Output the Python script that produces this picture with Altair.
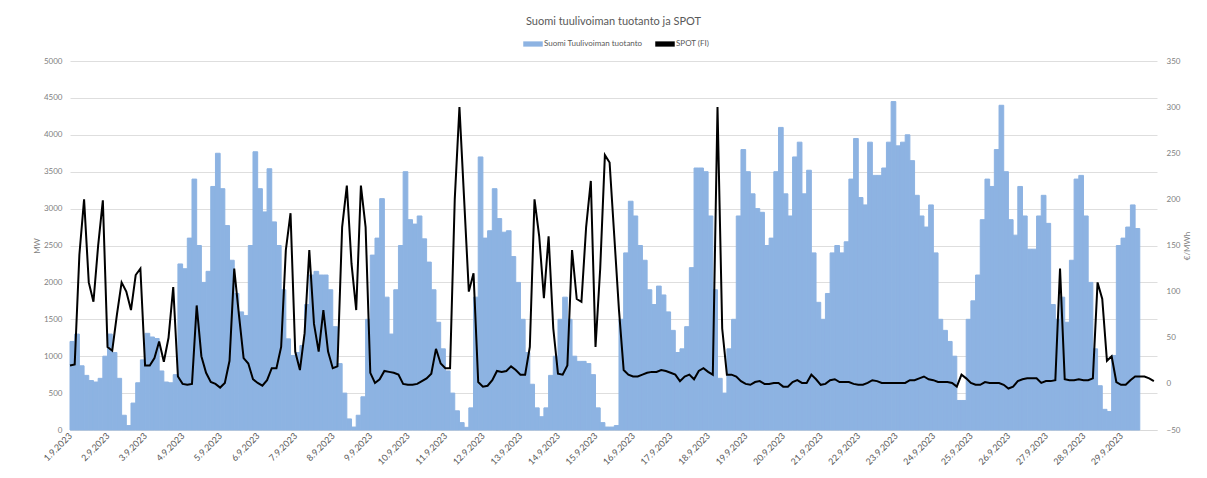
import altair as alt
import pandas as pd

STEP = 3  # hours between readings
SERIES_WIND = "Suomi Tuulivoiman tuotanto"
SERIES_SPOT = "SPOT (FI)"

# Finnish wind power production, MW, every 3 hours from 1.9.2023 00:00
wind_mw = [
    1200, 1300, 870, 740, 670, 650, 700, 1000,
    1300, 1050, 700, 200, 60, 365, 640, 950,
    1310, 1260, 1240, 800, 650, 640, 750, 2250,
    2185, 2600, 3400, 2500, 2000, 2150, 3300, 3750,
    3270, 2770, 2300, 1850, 1600, 1550, 2500, 3770,
    3270, 2955, 3540, 2820, 2500, 1900, 1235, 1010,
    1050, 1145, 1700, 2100, 2150, 2100, 2100, 1900,
    1400, 900, 500, 150, 40, 200, 450, 1500,
    2370, 2600, 3135, 1800, 1300, 1900, 2500, 3500,
    2850, 2790, 2900, 2590, 2275, 1900, 1460, 1100,
    800, 500, 260, 100, 36, 300, 1800, 3700,
    2600, 2700, 3270, 2865, 2680, 2700, 2350, 2000,
    1500, 1050, 620, 300, 180, 300, 740, 1000,
    1500, 1800, 1500, 1000, 930, 930, 900, 750,
    300, 100, 40, 40, 60, 1500, 2400, 3100,
    2900, 2500, 2300, 1900, 1700, 1950, 1830, 1600,
    1350, 1050, 1100, 1400, 2200, 3550, 3550, 3500,
    2900, 1900, 700, 500, 1100, 1500, 2900, 3800,
    3500, 3200, 3000, 2950, 2500, 2600, 3500, 4100,
    3200, 2900, 3700, 3900, 3200, 3520, 2400, 1730,
    1500, 1850, 2400, 2500, 2400, 2550, 3400, 3950,
    3150, 3050, 3900, 3450, 3450, 3550, 3900, 4450,
    3850, 3900, 4000, 3650, 3180, 2900, 2750, 3050,
    2400, 1500, 1350, 1200, 1000, 400, 400, 1500,
    1750, 2100, 2850, 3400, 3300, 3800, 4400, 3500,
    2850, 2640, 3300, 2900, 2450, 2450, 2900, 3180,
    2800, 1700, 1500, 1800, 1460, 2300, 3400, 3450,
    2900, 2000, 1100, 600, 280, 250, 1010, 2500,
    2600, 2750, 3050, 2730,
]

# SPOT price FI, EUR/MWh, every 3 hours from 1.9.2023 00:00
spot_eur = [
    20, 21, 140, 200, 110, 89, 150, 199,
    40, 36, 75, 110, 100, 80, 118, 125,
    20, 20, 28, 46, 24, 50, 105, 8,
    0, -1, 0, 85, 30, 12, 2, 0,
    -4, 1, 25, 125, 75, 28, 22, 5,
    1, -2, 4, 17, 17, 40, 145, 185,
    35, 15, 55, 145, 65, 35, 80, 35,
    17, 19, 170, 215, 130, 80, 215, 170,
    12, 1, 5, 14, 13, 12, 10, 0,
    -1, -1, 0, 3, 6, 11, 38, 22,
    17, 17, 200, 300, 200, 100, 120, 2,
    -3, -2, 4, 14, 13, 14, 19, 15,
    10, 10, 40, 200, 160, 93, 160, 60,
    11, 10, 20, 145, 92, 89, 170, 220,
    40, 125, 248, 240, 160, 80, 15, 10,
    8, 8, 10, 12, 13, 13, 15, 14,
    12, 10, 3, 8, 10, 5, 14, 17,
    13, 10, 300, 60, 10, 10, 8, 3,
    0, -1, 2, 3, 0, 0, 1, 1,
    -3, -3, 2, 4, 1, 1, 10, 5,
    -1, 0, 4, 5, 2, 2, 2, 0,
    -1, -1, 1, 4, 3, 1, 1, 1,
    1, 1, 1, 4, 4, 6, 8, 5,
    4, 2, 2, 2, 1, -3, 10, 6,
    1, -1, -1, 2, 1, 1, 1, -1,
    -5, -3, 3, 5, 6, 6, 6, 1,
    3, 3, 4, 125, 5, 4, 4, 5,
    4, 4, 6, 110, 92, 25, 30, 2,
    -1, -1, 4, 8, 8, 8, 6, 3,
]

day_ticks = list(range(0, 673, 24))  # one label per day, 1.9 ... 29.9
TOTAL_HOURS = 695

wind_df = pd.DataFrame({
    "h": [i * STEP for i in range(len(wind_mw))],
    "mw": wind_mw,
})
wind_df["h2"] = wind_df["h"] + STEP
wind_df["series"] = SERIES_WIND

spot_df = pd.DataFrame({
    "h": [i * STEP for i in range(len(spot_eur))],
    "eur": spot_eur,
})
spot_df["series"] = SERIES_SPOT

FONT = "Lato"
BLUE = "#8db3e2"
x_scale = alt.Scale(domain=[0, TOTAL_HOURS], nice=False, zero=False)
color_scale = alt.Scale(domain=[SERIES_WIND, SERIES_SPOT], range=[BLUE, "#000000"])

x_axis = alt.Axis(
    values=day_ticks,
    labelExpr="(floor(datum.value / 24) + 1) + '.9.2023'",
    title=None, grid=False, ticks=False,
    labelAngle=-45, labelAlign="right", labelBaseline="middle",
    labelFontSize=9, labelColor="#595959", labelFont=FONT, labelPadding=4,
    domainColor="#d9d9d9", labelOverlap=False,
)

bars = alt.Chart(wind_df).mark_rect(opacity=1, stroke=BLUE, strokeWidth=1).encode(
    x=alt.X("h:Q", scale=x_scale, axis=x_axis),
    x2="h2:Q",
    y=alt.Y("mw:Q", scale=alt.Scale(domain=[0, 5000], nice=False),
            axis=alt.Axis(values=list(range(0, 5001, 500)), title="MW", format="d",
                          grid=True, gridColor="#dedede", ticks=False, domain=False,
                          labelFontSize=8, labelColor="#808080", labelFont=FONT,
                          labelPadding=8, titleFontSize=8, titleColor="#7f7f7f",
                          titleFont=FONT, titleFontWeight="normal", titlePadding=2)),
    y2=alt.datum(0),
    color=alt.Color("series:N", scale=color_scale,
                    legend=alt.Legend(title=None, orient="none", direction="horizontal",
                                      legendX=453, legendY=-27,
                                      symbolType="M-1,-0.27H1V0.27H-1Z", symbolSize=380,
                                      symbolStrokeWidth=0, labelFontSize=8,
                                      labelColor="#595959", labelFont=FONT,
                                      columnPadding=12, labelOffset=1, padding=0)),
)

line = alt.Chart(spot_df).mark_line(strokeWidth=2, interpolate="linear").encode(
    x=alt.X("h:Q", scale=x_scale, axis=x_axis),
    y=alt.Y("eur:Q", scale=alt.Scale(domain=[-50, 350], nice=False),
            axis=alt.Axis(values=list(range(-50, 351, 50)), title="€/MWh", orient="right",
                          grid=False, ticks=False, domain=False,
                          labelFontSize=8, labelColor="#808080", labelFont=FONT,
                          labelPadding=9, titleFontSize=8, titleColor="#7f7f7f",
                          titleFont=FONT, titleFontWeight="normal", titleAngle=270,
                          titlePadding=12)),
    color=alt.Color("series:N", scale=color_scale, legend=None),
)

chart = alt.layer(bars, line).resolve_scale(y="independent").properties(
    width=1087, height=369,
    title=alt.TitleParams("Suomi tuulivoiman tuotanto ja SPOT", fontSize=11,
                          color="#595959", font=FONT, fontWeight="normal",
                          anchor="middle", offset=7),
    padding={"left": 62, "top": 53, "right": 40, "bottom": 40},
    autosize=alt.AutoSizeParams(type="none"),
).configure_view(stroke=None)

chart.save("out.html", embed_options={"renderer": "svg", "actions": False})
